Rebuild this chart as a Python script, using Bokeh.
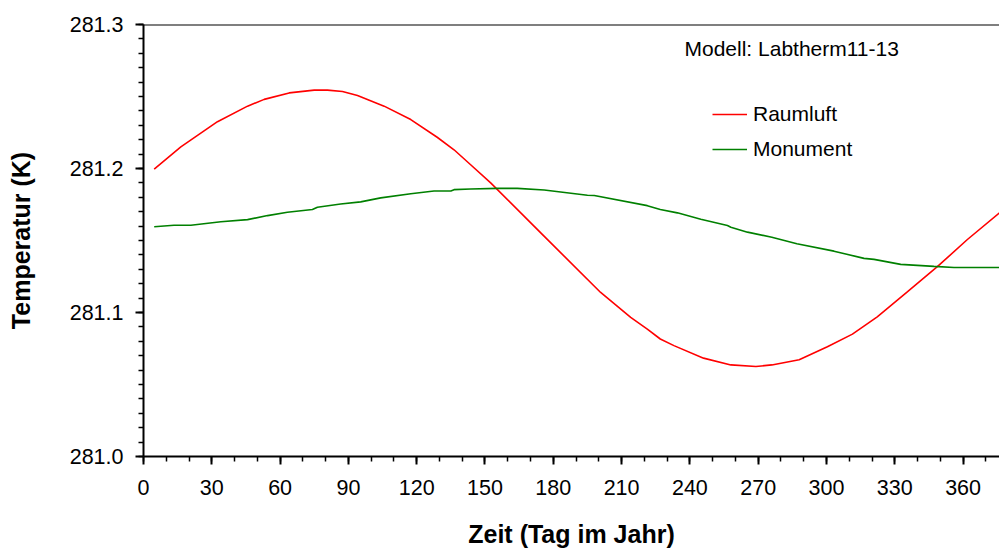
from bokeh.plotting import figure
from bokeh.models import (Range1d, SingleIntervalTicker, NumeralTickFormatter,
                          Legend, LegendItem, Label, Span)
from bokeh.embed import file_html
from bokeh.resources import INLINE

# Tag im Jahr / Temperatur (K)
raum_tag = [4.7, 16.4, 32.5, 45.7, 53, 64, 75, 80.8, 87.4, 94, 105.7, 117.4,
            129, 136.4, 143.7, 152.5, 174.5, 200.8, 214, 221.3, 227, 233,
            246, 258, 269, 276, 288, 300.4, 311.4, 322.3, 335.5, 348.7,
            361.9, 376]
raum_temp = [281.1996, 281.215, 281.2325, 281.2433, 281.248, 281.2525,
             281.2544, 281.2544, 281.2535, 281.2507, 281.2433, 281.234,
             281.2217, 281.213, 281.2026, 281.190, 281.1553, 281.1139,
             281.0966, 281.0885, 281.0816, 281.077, 281.0683, 281.0636,
             281.0625, 281.0636, 281.0672, 281.0762, 281.085, 281.097,
             281.1143, 281.1318, 281.1507, 281.1692]

mon_tag = [4.7, 13.4, 20.8, 34, 45.7, 54.5, 63.2, 74.2, 76.4, 86.6, 95.4,
           104.2, 117.4, 127.6, 135, 136.4, 143.7, 155.5, 164.2, 176, 195,
           198, 221.3, 227, 234.5, 244.8, 256.5, 258, 265.3, 276, 287,
           303.3, 316.5, 320.9, 332.6, 347.2, 356, 376]
mon_temp = [281.1595, 281.1606, 281.1606, 281.163, 281.1645, 281.1673,
            281.1696, 281.1715, 281.1731, 281.1754, 281.1768, 281.1796,
            281.1825, 281.1844, 281.1844, 281.1853, 281.1858, 281.1862,
            281.1862, 281.1851, 281.1814, 281.1812, 281.1742, 281.1715,
            281.1692, 281.1648, 281.1604, 281.1592, 281.1558, 281.1523,
            281.1477, 281.1426, 281.1376, 281.1369, 281.1334, 281.132,
            281.1313, 281.1313]

FONT = "Liberation Sans"

p = figure(width=999, height=550, output_backend="svg", toolbar_location=None,
           x_range=Range1d(0, 376), y_range=Range1d(281.0, 281.3),
           min_border_left=143, min_border_right=0, min_border_top=24,
           min_border_bottom=92)
p.outline_line_color = None
p.xgrid.visible = False
p.ygrid.visible = False

# top frame edge
p.add_layout(Span(location=281.3, dimension="width", line_color="black",
                  line_width=2))

r_raum = p.line(raum_tag, raum_temp, line_color="#FF0000", line_width=1.6)
r_mon = p.line(mon_tag, mon_temp, line_color="#008000", line_width=1.6)

xa = p.xaxis[0]
xa.ticker = SingleIntervalTicker(interval=30, num_minor_ticks=3)
xa.axis_label = "Zeit (Tag im Jahr)"
ya = p.yaxis[0]
ya.ticker = SingleIntervalTicker(interval=0.1, num_minor_ticks=10)
ya.formatter = NumeralTickFormatter(format="0.0")
ya.axis_label = "Temperatur (K)"

for ax in (xa, ya):
    ax.axis_line_width = 2
    ax.axis_line_color = "black"
    ax.major_tick_line_width = 2
    ax.minor_tick_line_width = 1.5
    ax.major_tick_in = 0
    ax.minor_tick_in = 0
    ax.major_tick_out = 8
    ax.minor_tick_out = 5
    ax.major_label_text_font = FONT
    ax.major_label_text_font_size = "21.5px"
    ax.major_label_text_color = "black"
    ax.axis_label_text_font = FONT
    ax.axis_label_text_font_size = "25px"
    ax.axis_label_text_font_style = "bold"
    ax.axis_label_text_color = "black"
xa.major_label_standoff = 15
ya.major_label_standoff = 12
xa.axis_label_standoff = 22
ya.axis_label_standoff = 32

legend = Legend(items=[LegendItem(label="Raumluft", renderers=[r_raum]),
                       LegendItem(label="Monument", renderers=[r_mon])],
                location=(569, 295), glyph_width=35, glyph_height=20,
                label_height=20, spacing=11, padding=0, margin=0,
                label_standoff=6, border_line_alpha=0,
                background_fill_alpha=0, label_text_font=FONT,
                label_text_font_size="21px", label_text_color="black")
p.add_layout(legend)

p.add_layout(Label(x=541, y=408, x_units="screen", y_units="screen",
                   text="Modell: Labtherm11-13", text_font=FONT,
                   text_font_size="21px", text_color="black",
                   text_baseline="middle", text_align="left"))

open("out.html", "w").write(file_html(p, INLINE))
